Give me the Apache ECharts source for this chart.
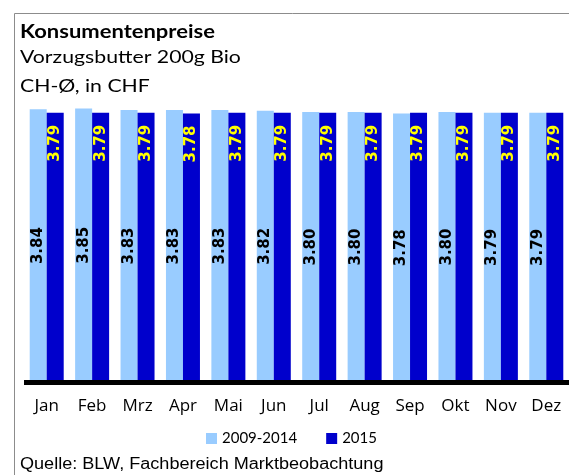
<!DOCTYPE html>
<html>
<head>
<meta charset="utf-8">
<script src="https://cdn.jsdelivr.net/npm/echarts@6/dist/echarts.min.js"></script>
<style>
  html, body { margin: 0; padding: 0; background: #fff; }
  #chart { width: 569px; height: 475px; }
</style>
</head>
<body>
<div id="chart"></div>
<script>
// Monthly consumer prices, organic butter 200 g, CH average in CHF
const months = ['Jan', 'Feb', 'Mrz', 'Apr', 'Mai', 'Jun', 'Jul', 'Aug', 'Sep', 'Okt', 'Nov', 'Dez'];
const avg2009to2014 = [3.84, 3.85, 3.83, 3.83, 3.83, 3.82, 3.80, 3.80, 3.78, 3.80, 3.79, 3.79];
const year2015 = [3.79, 3.79, 3.79, 3.78, 3.79, 3.79, 3.79, 3.79, 3.79, 3.79, 3.79, 3.79];
const seriesNames = ['2009-2014', '2015'];

const uiFont = 'Lato';
const chart = echarts.init(document.getElementById('chart'), null, { renderer: 'canvas' });

// heading lines are set in a slightly widened face
function headingText(str, y, font, sx) {
  return {
    type: 'text', x: 20, y: y, scaleX: sx,
    style: { text: str, font: font, fill: '#000', textVerticalAlign: 'top' }
  };
}

chart.setOption({
  animation: false,
  backgroundColor: '#ffffff',
  graphic: [
    {
      type: 'rect', left: 12, top: 11,
      shape: { width: 620, height: 520 },
      style: { fill: 'none', stroke: '#8c8c8c', lineWidth: 1 }
    },
    headingText('Konsumentenpreise', 23, 'bold 18px ' + uiFont, 1.22),
    headingText('Vorzugsbutter 200g Bio', 48, '18px ' + uiFont, 1.18),
    headingText('CH-Ø, in CHF', 77, '18px ' + uiFont, 1.18),
    headingText('Quelle: BLW, Fachbereich Marktbeobachtung', 457, '16px "Liberation Sans"', 1.13)
  ],
  legend: {
    data: seriesNames,
    left: 206, top: 431,
    padding: 0,
    itemWidth: 11, itemHeight: 11,
    itemGap: 29,
    icon: 'rect',
    textStyle: { fontFamily: uiFont, fontSize: 15, color: '#000' }
  },
  grid: { left: 24, top: 100, width: 548, height: 282 },
  xAxis: {
    type: 'category',
    data: months,
    z: 5,
    axisLine: { show: true, lineStyle: { color: '#000', width: 5, cap: 'butt' } },
    axisTick: { show: false },
    axisLabel: { color: '#000', fontFamily: 'Open Sans', fontSize: 17, margin: 16 }
  },
  yAxis: {
    type: 'value', min: 0, max: 3.97,
    show: false, splitLine: { show: false }
  },
  series: [
    {
      name: seriesNames[0], type: 'bar', data: avg2009to2014,
      barWidth: 17, barGap: '0%',
      itemStyle: { color: '#99ccff' },
      label: {
        show: true, position: 'inside', rotate: 90,
        formatter: p => p.value.toFixed(2),
        fontFamily: 'DejaVu Sans', fontWeight: 'bold', fontSize: 15, color: '#000'
      }
    },
    {
      name: seriesNames[1], type: 'bar', data: year2015,
      barWidth: 17,
      itemStyle: { color: '#0000cc' },
      label: {
        show: true, position: 'insideTop', rotate: 90, distance: 12,
        align: 'right', verticalAlign: 'middle',
        formatter: p => p.value.toFixed(2),
        fontFamily: 'DejaVu Sans', fontWeight: 'bold', fontSize: 15, color: '#ffff00'
      }
    }
  ]
});
</script>
</body>
</html>
